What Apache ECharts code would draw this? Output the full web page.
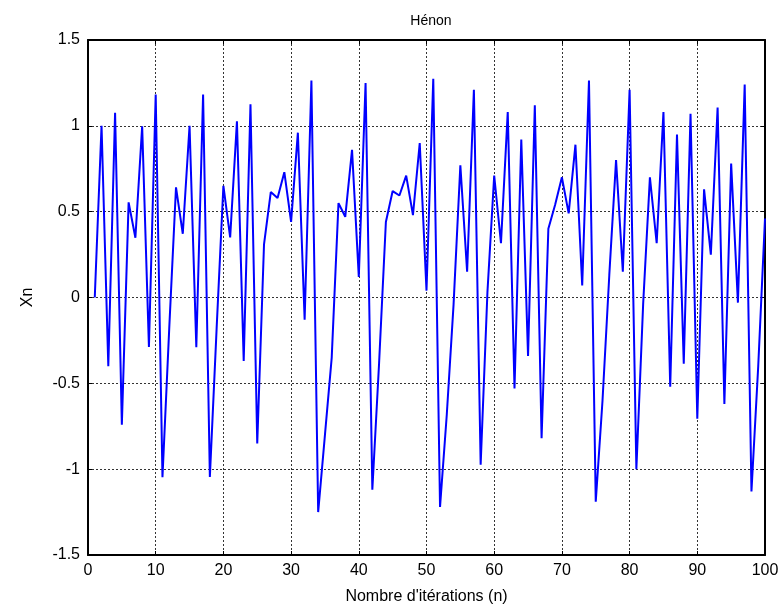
<!DOCTYPE html>
<html>
<head>
<meta charset="utf-8">
<script src="https://cdn.jsdelivr.net/npm/echarts@6/dist/echarts.min.js"></script>
<style>
html,body{margin:0;padding:0;background:#fff;}
#c{width:782px;height:613px;}
</style>
</head>
<body>
<div id="c"></div>
<script>
const title = 'Hénon';
const xName = "Nombre d'itérations (n)";
const yName = 'Xn';
const xTicks = [0, 10, 20, 30, 40, 50, 60, 70, 80, 90, 100];
const yTicks = [-1.5, -1, -0.5, 0, 0.5, 1, 1.5];
// x_n values, for n = 1 .. 100
const xn = [
  0, 1.0, -0.40, 1.076, -0.741, 0.554, 0.348, 0.997, -0.288, 1.183,
  -1.047, -0.18, 0.642, 0.371, 1.0, -0.29, 1.183, -1.045, -0.18, 0.65,
  0.35, 1.026, -0.37, 1.126, -0.85, 0.31, 0.614, 0.58, 0.73, 0.44,
  0.96, -0.13, 1.264, -1.25, -0.80, -0.35, 0.55, 0.47, 0.86, 0.12,
  1.25, -1.12, -0.38, 0.44, 0.62, 0.594, 0.71, 0.48, 0.90, 0.04,
  1.274, -1.22, -0.68, -0.04, 0.77, 0.15, 1.21, -0.974, 0.03, 0.71,
  0.316, 1.08, -0.53, 0.92, -0.34, 1.12, -0.82, 0.40, 0.54, 0.70,
  0.49, 0.89, 0.07, 1.264, -1.19, -0.60, 0.13, 0.80, 0.15, 1.21,
  -1.0, -0.04, 0.70, 0.316, 1.08, -0.52, 0.95, -0.386, 1.07, -0.706,
  0.63, 0.25, 1.106, -0.62, 0.78, -0.03, 1.24, -1.13, -0.40, 0.46
];
const firstN = 1;

const font = '"Liberation Sans",Arial,sans-serif';
const chart = echarts.init(document.getElementById('c'), null, {renderer: 'canvas'});
const seriesData = xn.map((v, i) => [firstN + i, v]);

const baseX = {
  type: 'value', min: xTicks[0], max: xTicks[xTicks.length - 1], interval: 10,
  axisLine: {show: true, onZero: false, lineStyle: {color: '#000', width: 2}},
  axisTick: {show: true, inside: true, length: 4, lineStyle: {color: '#000'}},
  splitLine: {show: false}
};
const baseY = {
  type: 'value', min: yTicks[0], max: yTicks[yTicks.length - 1], interval: 0.5,
  axisLine: {show: true, onZero: false, lineStyle: {color: '#000', width: 2}},
  axisTick: {show: true, inside: true, length: 4, lineStyle: {color: '#000'}},
  splitLine: {show: false}
};

chart.setOption({
  animation: false,
  backgroundColor: '#fff',
  title: {
    text: title, left: 426, top: 9, textAlign: 'center',
    textStyle: {fontFamily: font, fontSize: 14, fontWeight: 'normal', color: '#000'}
  },
  grid: {left: 88, right: 17, top: 40, bottom: 58, containLabel: false},
  xAxis: [
    Object.assign({}, baseX, {
      position: 'bottom',
      name: xName, nameLocation: 'middle', nameGap: 34,
      nameTextStyle: {fontFamily: font, fontSize: 16, color: '#000'},
      axisLabel: {show: true, margin: 8, fontFamily: font, fontSize: 16, color: '#000'},
      splitLine: {show: true, lineStyle: {color: '#333', type: [2, 2], width: 1}}
    }),
    Object.assign({}, baseX, {position: 'top', axisLabel: {show: false}})
  ],
  yAxis: [
    Object.assign({}, baseY, {
      position: 'left',
      name: yName, nameLocation: 'middle', nameGap: 52, nameRotate: 90,
      nameTextStyle: {fontFamily: font, fontSize: 16, color: '#000'},
      axisLabel: {show: true, margin: 8, fontFamily: font, fontSize: 16, color: '#000'},
      splitLine: {show: true, lineStyle: {color: '#333', type: [2, 2], width: 1}}
    }),
    Object.assign({}, baseY, {position: 'right', axisLabel: {show: false}})
  ],
  series: [{
    type: 'line',
    data: seriesData,
    xAxisIndex: 0, yAxisIndex: 0,
    showSymbol: false,
    lineStyle: {color: '#0000ff', width: 2},
    clip: true
  }]
});
</script>
</body>
</html>
